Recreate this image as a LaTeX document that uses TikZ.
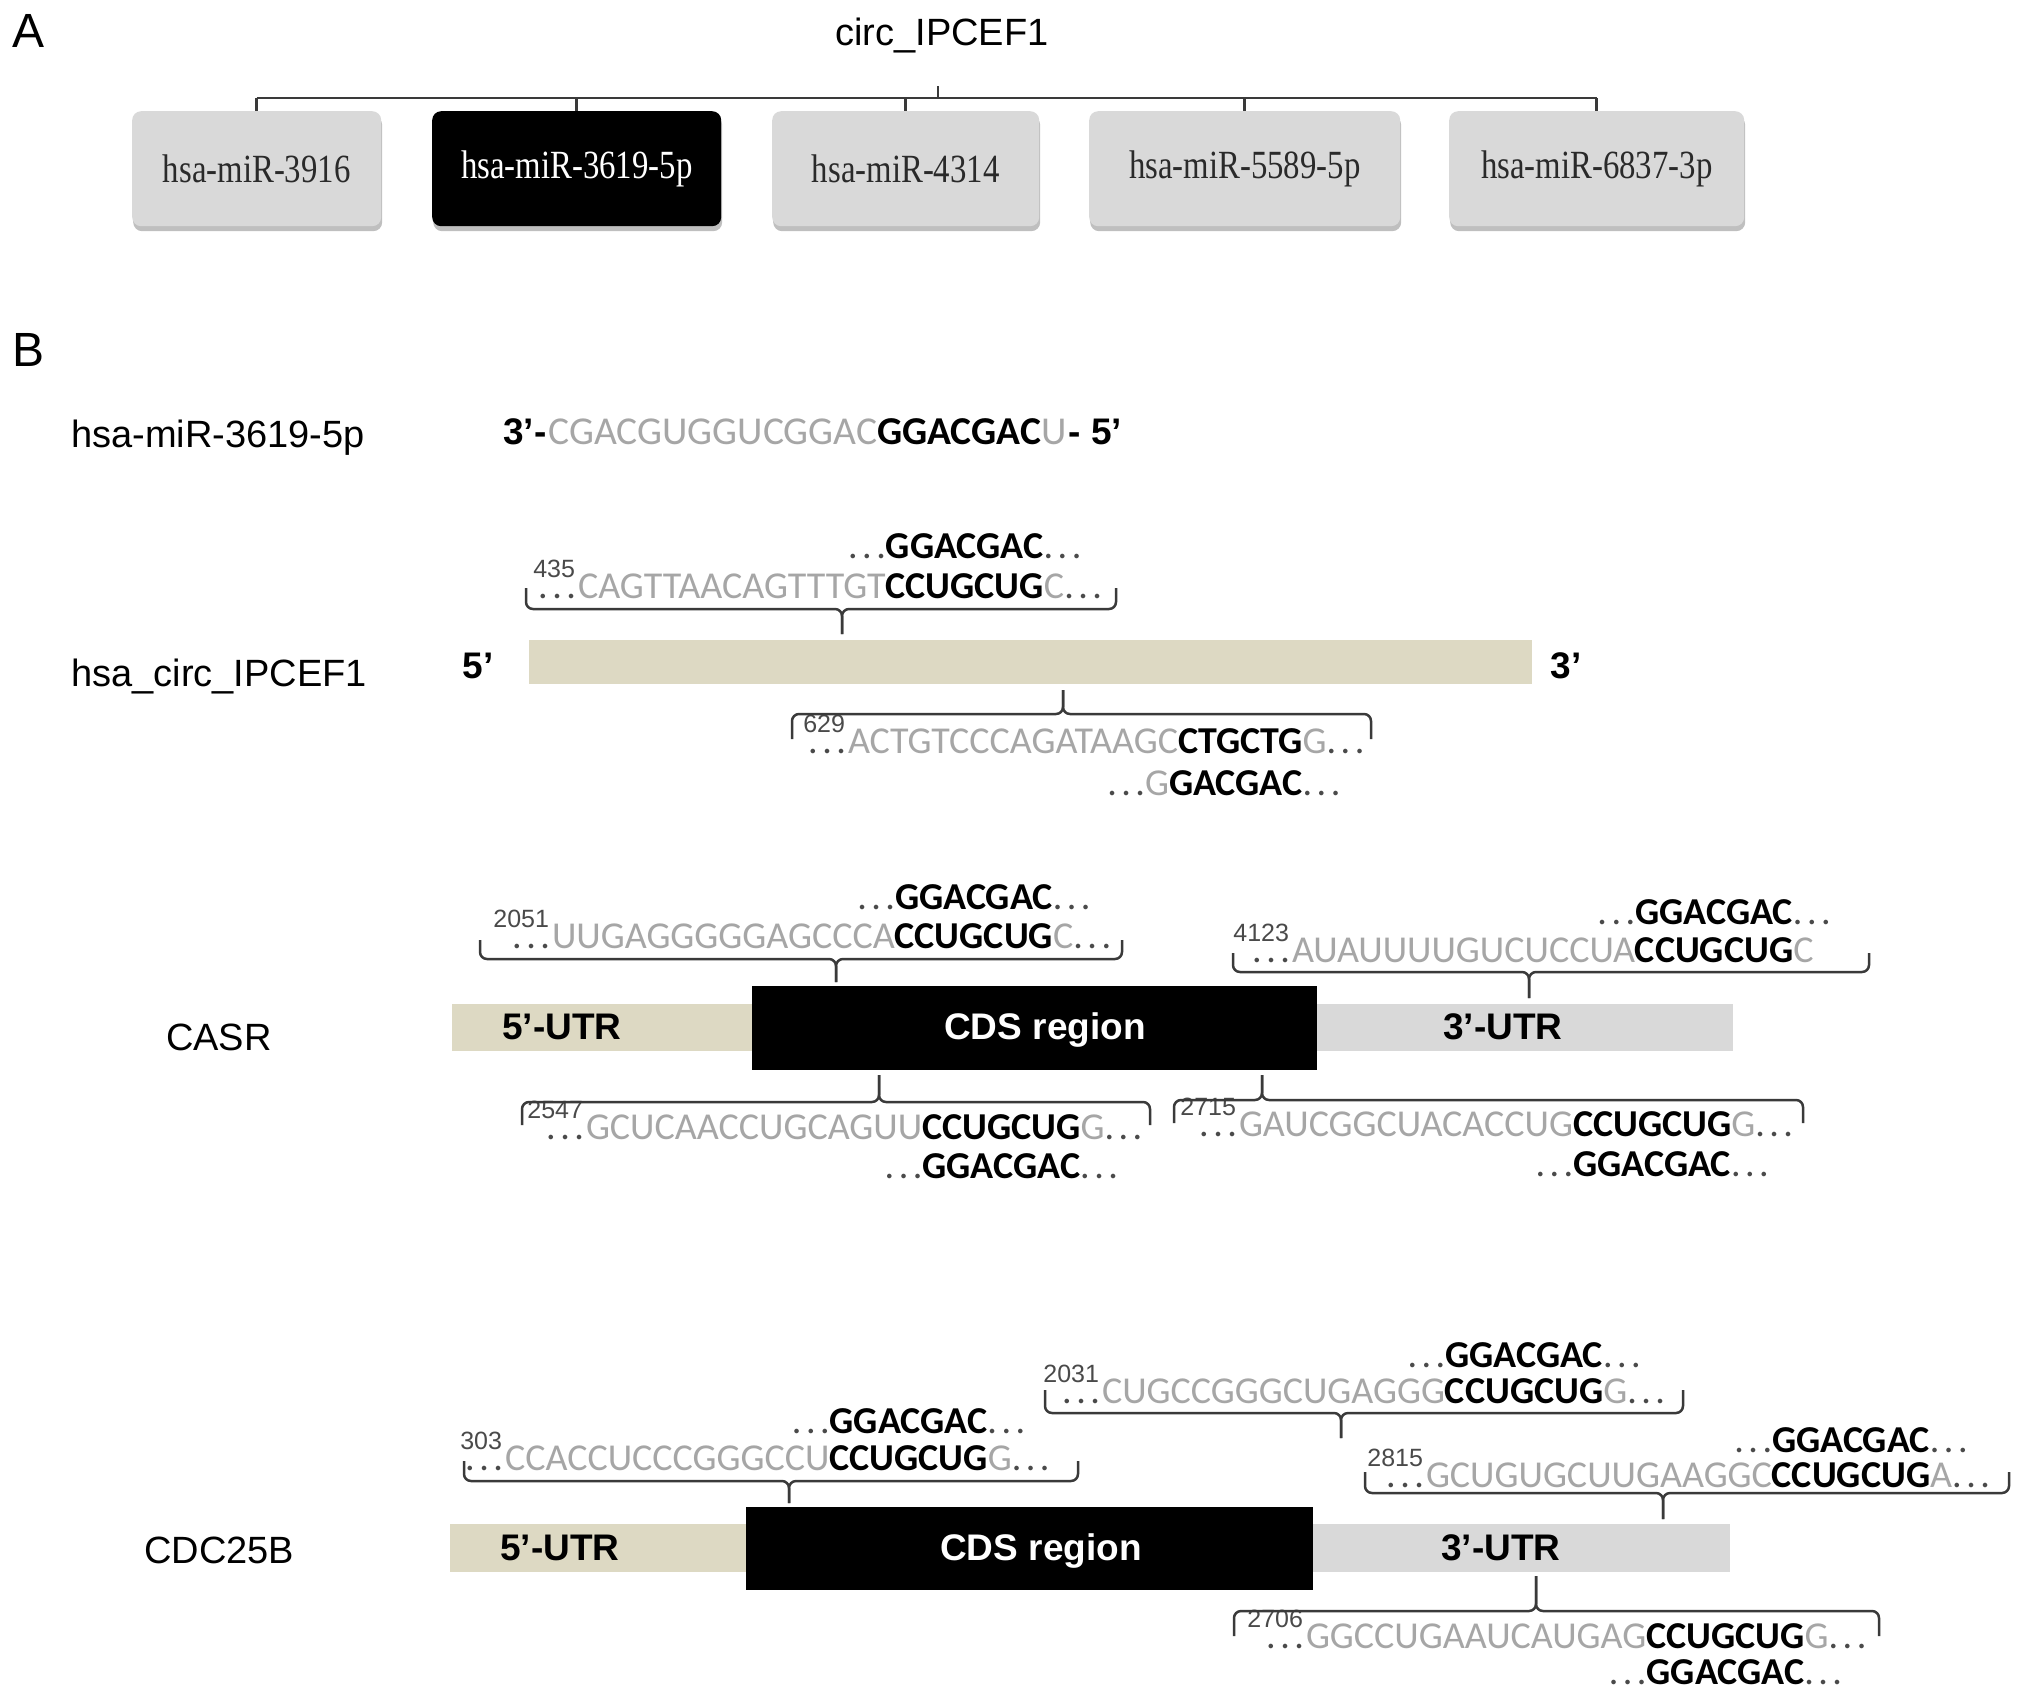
\documentclass[tikz,border=0pt]{standalone}
\usepackage{graphicx}
\usepackage{fontspec}
\setmainfont{Liberation Sans}
\newfontfamily\calf{Carlito}
\newfontfamily\tmsf{Liberation Serif}
\usetikzlibrary{shadows,calc}
\definecolor{seqgray}{HTML}{A6A6A6}
\definecolor{beige}{HTML}{DDD9C3}
\definecolor{lgray}{HTML}{D9D9D9}
\definecolor{linec}{HTML}{3A3A3A}
\definecolor{dotc}{HTML}{4A4A4A}
\definecolor{boxtext}{HTML}{2A2A2A}
\newcommand{\dd}{\textcolor{dotc}{\mdseries.\kern4.5pt.\kern4.5pt.}}
\newcommand{\gy}[1]{\textcolor{seqgray}{#1}}
\newcommand{\seqrow}[7]{%
  \node[sq, text=seqgray, anchor=base west] (#1g) at (#2,#3) {#5};
  \node[sqb, anchor=base west] (#1b) at (#1g.base east) {#6};
  \node[sq, anchor=base west] (#1t) at (#1b.base east) {#7};
  \node[num, anchor=base east] (#1n) at ([shift={(-3,-21)}]#1g.base west) {#4};
  \node[sq, text height=6pt, text depth=0pt, anchor=base east] (#1d) at ([shift={(-2,0)}]#1g.base west) {\dd};
}
\newcommand{\sitebrace}[6]{%
  \draw[brc] (#1,#5) -- (#1,#4) -- (#3,#4) -- (#3,#6);
  \draw[brc] (#2,#5) -- (#2,#4) -- (#3,#4) -- (#3,#6);
}
\begin{document}
\begin{tikzpicture}[x=1pt,y=-1pt,
  sq/.style={inner sep=0pt, outer sep=0pt, font=\calf\fontsize{38}{40}\selectfont},
  sqb/.style={inner sep=0pt, outer sep=0pt, font=\calf\bfseries\fontsize{38}{40}\selectfont},
  num/.style={inner sep=0pt, outer sep=0pt, text=dotc, font=\fontsize{25}{26}\selectfont},
  lab/.style={inner sep=0pt, font=\fontsize{38}{40}\selectfont, anchor=west},
  pan/.style={inner sep=0pt, font=\fontsize{48}{50}\selectfont},
  bld/.style={inner sep=0pt, font=\bfseries\fontsize{37}{40}\selectfont},
  brc/.style={draw=linec, line width=2.5pt, rounded corners=7pt},
  tree/.style={draw=linec, line width=2.5pt},
  mbox/.style={rounded corners=9pt, fill=lgray, minimum height=115pt, inner sep=0pt,
     anchor=north west, text=boxtext, font=\tmsf\fontsize{40}{44}\selectfont,
     drop shadow={shadow xshift=1pt, shadow yshift=-5pt, fill=black!50, opacity=0.5}},
  seg/.style={inner sep=0pt, outer sep=0pt, anchor=north west}
]
\useasboundingbox (0,0) rectangle (2032,1698);
\fill[white] (0,0) rectangle (2032,1698);

% ---------------- Panel A ----------------
\node[pan] (pA) at (29,31) {A};
\node[inner sep=0pt, font=\fontsize{38}{40}\selectfont] (root) at (942,36) {circ\_IPCEF1};

\node[mbox, minimum width=249pt] (m1) at (132,111) {\scalebox{0.82}[1]{hsa-miR-3916}};
\node[mbox, minimum width=289pt, fill=black, text=white] (m2) at (432,111) {\scalebox{0.82}[1]{hsa-miR-3619-5p}};
\node[mbox, minimum width=267pt] (m3) at (772,111) {\scalebox{0.82}[1]{hsa-miR-4314}};
\node[mbox, minimum width=311pt] (m4) at (1089,111) {\scalebox{0.82}[1]{hsa-miR-5589-5p}};
\node[mbox, minimum width=295pt] (m5) at (1449,111) {\scalebox{0.82}[1]{hsa-miR-6837-3p}};

\coordinate (stub) at (938,86);
\coordinate (hub) at (938,98);
\draw[tree] (stub) -- (hub);
\draw[tree] (hub -| m1.north) -- (hub -| m5.north);
\foreach \m in {m1,m2,m3,m4,m5} \draw[tree] (hub -| \m.north) -- (\m.north);

% ---------------- Panel B ----------------
\node[pan] (pB) at (29,350) {B};

% miRNA
\node[lab] (lmir) at (71,438) {hsa-miR-3619-5p};
\node[bld, anchor=base west] (mir3) at (503,444) {3’-};
\node[sq, font=\calf\fontsize{39.5}{40}\selectfont, text=seqgray, anchor=base west] (mirg) at ([xshift=2pt]mir3.base east) {CGACGUGGUCGGAC};
\node[sqb, font=\calf\bfseries\fontsize{39.5}{40}\selectfont, anchor=base west] (mirb) at (mirg.base east) {GGACGAC};
\node[sq, font=\calf\fontsize{39.5}{40}\selectfont, text=seqgray, anchor=base west] (miru) at (mirb.base east) {U};
\node[bld, anchor=base west] (mir5) at ([xshift=2pt]miru.base east) {- 5’};

% circRNA
\node[lab] (lcirc) at (71,676) {hsa\_circ\_IPCEF1};
\node[bld] (c5) at (478,666) {5’};
\node[bld] (c3) at (1566,666) {3’};
\node[seg, fill=beige, minimum width=1003pt, minimum height=44pt] (circ) at (529,640) {};

% site 435
\seqrow{sA}{578}{598}{435}{CAGTTAACAGTTTGT}{CCUGCUG}{\gy{C}\dd}
\node[sqb, anchor=base] (sAc) at ([shift={(0,-40)}]sAb.base) {\llap{\dd}GGACGAC\rlap{\dd}};
\sitebrace{526}{1116}{842}{609}{588}{634}

% site 629
\seqrow{sB}{848}{753}{629}{ACTGTCCCAGATAAGC}{CTGCTG}{\gy{G}\dd}
\node[sqb, anchor=base east] (sBc) at ([shift={(0,42)}]sBb.base east) {\llap{\dd\gy{\mdseries G}}GACGAC\rlap{\dd}};
\sitebrace{792}{1371}{1063}{714}{739}{690}

% CASR
\node[lab] (lcasr) at (166,1037) {CASR};
\node[seg, fill=beige, minimum width=300pt, minimum height=47pt] (u5a) at (452,1004) {};
\node[seg, fill=lgray, minimum width=416pt, minimum height=47pt] (u3a) at (1317,1004) {};
\node[seg, fill=black, minimum width=565pt, minimum height=84pt] (cdsa) at (752,986) {};
\node[bld] (t5a) at (562,1027) {5’-UTR};
\node[bld, text=white] (tca) at (1045,1030) {CDS region};
\node[bld] (t3a) at (1503,1027) {3’-UTR};

\seqrow{sC}{552}{948}{2051}{UUGAGGGGGAGCCCA}{CCUGCUG}{\gy{C}\dd}
\node[sqb, anchor=base] (sCc) at ([shift={(0,-39)}]sCb.base) {\llap{\dd}GGACGAC\rlap{\dd}};
\sitebrace{480}{1122}{836}{959}{940}{982}

\seqrow{sD}{1292}{962}{4123}{AUAUUUUGUCUCCUA}{CCUGCUG}{\gy{C}}
\node[sqb, anchor=base] (sDc) at ([shift={(0,-38)}]sDb.base) {\llap{\dd}GGACGAC\rlap{\dd}};
\sitebrace{1233}{1869}{1529}{972}{953}{998}

\seqrow{sE}{586}{1139}{2547}{GCUCAACCUGCAGUU}{CCUGCUG}{\gy{G}\dd}
\node[sqb, anchor=base] (sEc) at ([shift={(0,39)}]sEb.base) {\llap{\dd}GGACGAC\rlap{\dd}};
\sitebrace{522}{1150}{879}{1102}{1125}{1075}

\seqrow{sF}{1239}{1136}{2715}{GAUCGGCUACACCUG}{CCUGCUG}{\gy{G}\dd}
\node[sqb, anchor=base] (sFc) at ([shift={(0,40)}]sFb.base) {\llap{\dd}GGACGAC\rlap{\dd}};
\sitebrace{1174}{1803}{1262}{1100}{1123}{1075}

% CDC25B
\node[lab] (lcdc) at (144,1550) {CDC25B};
\node[seg, fill=beige, minimum width=296pt, minimum height=48pt] (u5b) at (450,1524) {};
\node[seg, fill=lgray, minimum width=417pt, minimum height=48pt] (u3b) at (1313,1524) {};
\node[seg, fill=black, minimum width=567pt, minimum height=83pt] (cdsb) at (746,1507) {};
\node[bld] (t5b) at (560,1548) {5’-UTR};
\node[bld, text=white] (tcb) at (1041,1551) {CDS region};
\node[bld] (t3b) at (1501,1548) {3’-UTR};

\seqrow{sG}{505}{1470}{303}{CCACCUCCCGGGCCU}{CCUGCUG}{\gy{G}\dd}
\node[sqb, anchor=base] (sGc) at ([shift={(0,-37)}]sGb.base) {\llap{\dd}GGACGAC\rlap{\dd}};
\sitebrace{464}{1078}{789}{1481}{1461}{1503}

\seqrow{sH}{1102}{1403}{2031}{CUGCCGGGCUGAGGG}{CCUGCUG}{\gy{G}\dd}
\node[sqb, anchor=base] (sHc) at ([shift={(0,-36)}]sHb.base) {\llap{\dd}GGACGAC\rlap{\dd}};
\sitebrace{1045}{1683}{1341}{1413}{1390}{1438}

\seqrow{sI}{1426}{1487}{2815}{GCUGUGCUUGAAGGC}{CCUGCUG}{\gy{A}\dd}
\node[sqb, anchor=base] (sIc) at ([shift={(0,-35)}]sIb.base) {\llap{\dd}GGACGAC\rlap{\dd}};
\sitebrace{1365}{2009}{1663}{1493}{1472}{1519}

\seqrow{sJ}{1306}{1648}{2706}{GGCCUGAAUCAUGAG}{CCUGCUG}{\gy{G}\dd}
\node[sqb, anchor=base] (sJc) at ([shift={(0,36)}]sJb.base) {\llap{\dd}GGACGAC\rlap{\dd}};
\sitebrace{1234}{1879}{1536}{1611}{1636}{1576}
\end{tikzpicture}
\end{document}
